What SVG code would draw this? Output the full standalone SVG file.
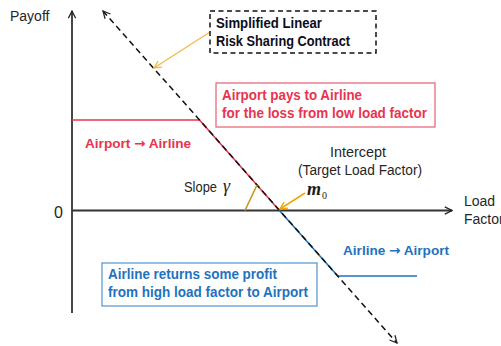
<svg xmlns="http://www.w3.org/2000/svg" width="501" height="346" viewBox="0 0 501 346">
  <style>
    .lbl { font-family: "Liberation Sans", Arial, sans-serif; font-size: 14px; fill: #262626; }
    .bold { font-family: "Liberation Sans", Arial, sans-serif; font-size: 14.5px; font-weight: bold; }
    .flow { font-size: 13.6px; }
    .arr { font-family: "DejaVu Sans", sans-serif; font-weight: bold; }
    .red { fill: #e8344e; }
    .blue { fill: #1f72c0; }
    .navy { fill: #0d0d20; }
    .math { font-family: "Liberation Serif", "Times New Roman", serif; font-style: italic; fill: #1a1a1a; }
    .axis { stroke: #333; stroke-width: 1.8; fill: none; }
    .dash { stroke: #111; stroke-width: 1.5; stroke-dasharray: 6 4; fill: none; }
  </style>
  <defs>
    <marker id="chevS" viewBox="0 0 10 10" refX="9" refY="5" markerWidth="9" markerHeight="9" orient="auto-start-reverse" markerUnits="userSpaceOnUse">
      <path d="M1,1 L9,5 L1,9" fill="none" stroke="#222" stroke-width="1.4"/>
    </marker>
    <marker id="orangeHead" viewBox="0 0 10 10" refX="9" refY="5" markerWidth="9" markerHeight="9" orient="auto" markerUnits="userSpaceOnUse">
      <path d="M1,1 L9,5 L1,9" fill="none" stroke="#f0a500" stroke-width="1.5"/>
    </marker>
    <marker id="yellowHead" viewBox="0 0 10 10" refX="9" refY="5" markerWidth="9" markerHeight="9" orient="auto" markerUnits="userSpaceOnUse">
      <path d="M1,1 L9,5 L1,9" fill="none" stroke="#f5b84a" stroke-width="1.4"/>
    </marker>
  </defs>

  <!-- axes -->
  <g id="axes">
    <line class="axis" x1="72" y1="313" x2="72" y2="11" marker-end="url(#chevS)"/>
    <line class="axis" x1="72" y1="210.5" x2="452" y2="210.5" marker-end="url(#chevS)"/>
    <text class="lbl" x="10" y="21">Payoff</text>
    <text class="lbl" x="54" y="218" style="font-size:16px">0</text>
    <text class="lbl" x="464" y="206">Load</text>
    <text class="lbl" x="464" y="224">Factor</text>
  </g>

  <!-- payoff curve segments and contract line -->
  <g id="connectors">
    <polyline points="72,120 199.5,120 279,210" fill="none" stroke="#e8344e" stroke-width="1.6"/>
    <polyline points="279,210 337.7,276 417,276" fill="none" stroke="#1f72c0" stroke-width="1.6"/>
    <line class="dash" x1="103" y1="11" x2="397" y2="343" marker-start="url(#chevS)" marker-end="url(#chevS)"/>
    <!-- slope marker -->
    <line x1="245" y1="210.5" x2="257" y2="185" stroke="#c8961e" stroke-width="1.6"/>
    <!-- intercept pointer -->
    <line x1="305" y1="193" x2="280" y2="209" stroke="#f0a500" stroke-width="1.5" marker-end="url(#orangeHead)"/>
    <!-- contract callout pointer -->
    <line x1="210" y1="32" x2="154" y2="68" stroke="#f5b84a" stroke-width="1.3" marker-end="url(#yellowHead)"/>
  </g>

  <g id="contract-box">
    <rect x="210" y="11" width="166" height="42" fill="#fff" stroke="#111" stroke-width="1.5" stroke-dasharray="5 3.5"/>
    <text class="bold navy" x="216" y="28" textLength="106" lengthAdjust="spacingAndGlyphs">Simplified Linear</text>
    <text class="bold navy" x="216" y="46" textLength="134" lengthAdjust="spacingAndGlyphs">Risk Sharing Contract</text>
  </g>

  <g id="airport-pays-box">
    <rect x="216" y="83" width="219" height="44" fill="#fff" stroke="#ec6a7c" stroke-width="1.3"/>
    <text class="bold red" x="222" y="100" textLength="140" lengthAdjust="spacingAndGlyphs">Airport pays to Airline</text>
    <text class="bold red" x="222" y="118" textLength="205" lengthAdjust="spacingAndGlyphs">for the loss from low load factor</text>
  </g>

  <g id="airport-to-airline">
    <text class="bold flow red" x="85" y="148">Airport <tspan class="arr">→</tspan> Airline</text>
  </g>

  <g id="airline-to-airport">
    <text class="bold flow blue" x="343" y="255">Airline <tspan class="arr">→</tspan> Airport</text>
  </g>

  <g id="airline-returns-box">
    <rect x="102" y="263" width="215" height="43" fill="#fff" stroke="#5b9bd5" stroke-width="1.3"/>
    <text class="bold blue" x="108" y="279" textLength="169" lengthAdjust="spacingAndGlyphs">Airline returns some profit</text>
    <text class="bold blue" x="108" y="297" textLength="200" lengthAdjust="spacingAndGlyphs">from high load factor to Airport</text>
  </g>

  <g id="slope-label">
    <text class="lbl" x="184" y="192" textLength="33" lengthAdjust="spacingAndGlyphs">Slope</text>
    <text class="math" x="223" y="192" style="font-size:18px">γ</text>
  </g>

  <g id="intercept-label">
    <text class="lbl" x="330" y="157" textLength="56" lengthAdjust="spacingAndGlyphs">Intercept</text>
    <text class="lbl" x="298" y="175" textLength="124" lengthAdjust="spacingAndGlyphs">(Target Load Factor)</text>
    <text class="math" x="307" y="195" style="font-size:18px;font-weight:bold">m</text>
    <text class="math" x="322" y="199" style="font-size:10px;font-style:normal">0</text>
  </g>
</svg>
